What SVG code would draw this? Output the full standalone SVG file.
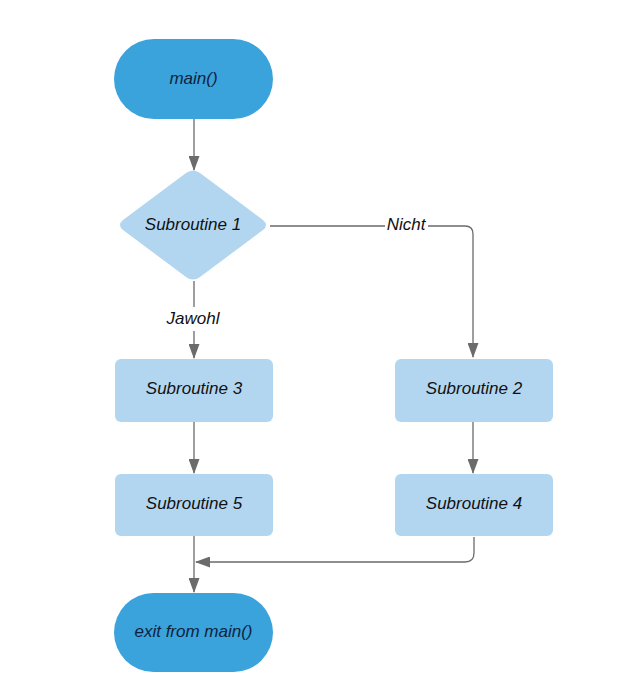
<svg xmlns="http://www.w3.org/2000/svg" width="626" height="686" viewBox="0 0 626 686">
<defs>
<style>
.term{fill:#3aa3dc;}
.proc{fill:#b3d6f0;}
.t{font-family:"Liberation Sans",Arial,sans-serif;font-size:17px;font-style:italic;text-anchor:middle;dominant-baseline:central;fill:#111;}
.tt{fill:#0f1f3d;}
.c{fill:none;stroke:#6b6b6b;stroke-width:1.3;}
</style>
<marker id="ah" viewBox="0 0 15 11" refX="14" refY="5.5" markerWidth="15" markerHeight="11" markerUnits="userSpaceOnUse" orient="auto">
<path d="M0,0 L15,5.5 L0,11 Z" fill="#6b6b6b"/>
</marker>
</defs>
<rect width="626" height="686" fill="#fff"/>
<g id="connectors">
<path class="c" d="M194,119 V170" marker-end="url(#ah)"/>
<path class="c" d="M270,226 H385 M428,226 H465 Q473,226 473,234 V357" marker-end="url(#ah)"/>
<path class="c" d="M194,281 V307 M194,331 V358" marker-end="url(#ah)"/>
<path class="c" d="M194,422 V473" marker-end="url(#ah)"/>
<path class="c" d="M473,422 V473" marker-end="url(#ah)"/>
<path class="c" d="M194,536 V592" marker-end="url(#ah)"/>
<path class="c" d="M474,537 V553 Q474,562 465,562 H196" marker-end="url(#ah)"/>
<text class="t" x="406" y="224">Nicht</text>
<text class="t" x="193" y="318">Jawohl</text>
</g>
<g id="main">
<rect class="term" x="114" y="39" width="159" height="80" rx="40"/>
<text class="t tt" x="193.5" y="78">main()</text>
</g>
<g id="sub1">
<path class="proc" d="M186,173 Q193,168 200,173 L263,220 Q269,225 263,230 L200,277 Q193,282 186,277 L123,230 Q117,225 123,220 Z"/>
<text class="t" x="193" y="224">Subroutine 1</text>
</g>
<g id="sub3">
<rect class="proc" x="115" y="359" width="158" height="63" rx="6"/>
<text class="t" x="194" y="388">Subroutine 3</text>
</g>
<g id="sub5">
<rect class="proc" x="115" y="474" width="158" height="62" rx="6"/>
<text class="t" x="194" y="503">Subroutine 5</text>
</g>
<g id="sub2">
<rect class="proc" x="395" y="359" width="158" height="63" rx="6"/>
<text class="t" x="474" y="388">Subroutine 2</text>
</g>
<g id="sub4">
<rect class="proc" x="395" y="474" width="158" height="62" rx="6"/>
<text class="t" x="474" y="503">Subroutine 4</text>
</g>
<g id="exit">
<rect class="term" x="114" y="593" width="159" height="79" rx="39.5"/>
<text class="t tt" x="193.5" y="631">exit from main()</text>
</g>
</svg>
